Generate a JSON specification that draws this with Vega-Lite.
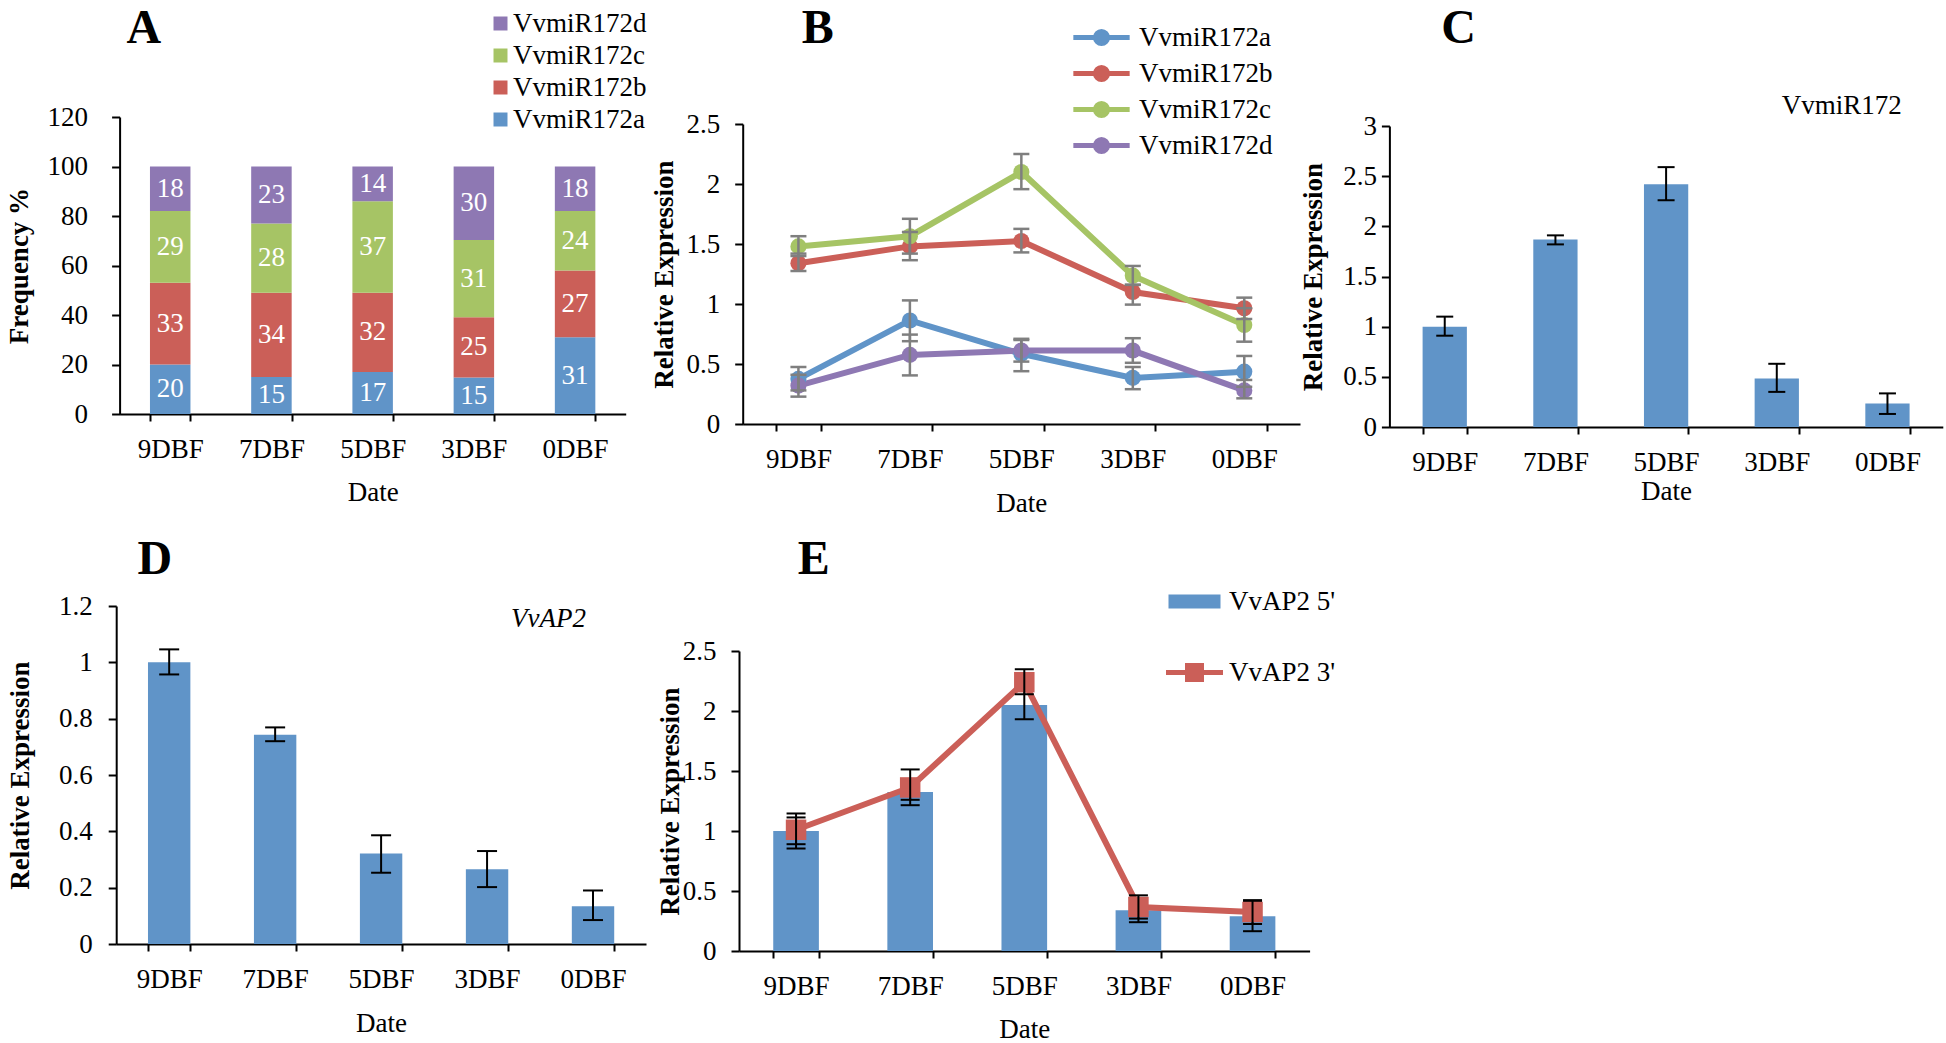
{
  "$schema": "https://vega.github.io/schema/vega-lite/v6.json",
  "width": 1946,
  "height": 1043,
  "autosize": {"type": "none"},
  "padding": 0,
  "background": "white",
  "datasets": {
    "freq": [
      {"date": "9DBF", "series": "VvmiR172a", "value": 20, "label": "20"},
      {"date": "9DBF", "series": "VvmiR172b", "value": 33, "label": "33"},
      {"date": "9DBF", "series": "VvmiR172c", "value": 29, "label": "29"},
      {"date": "9DBF", "series": "VvmiR172d", "value": 18, "label": "18"},
      {"date": "7DBF", "series": "VvmiR172a", "value": 15, "label": "15"},
      {"date": "7DBF", "series": "VvmiR172b", "value": 34, "label": "34"},
      {"date": "7DBF", "series": "VvmiR172c", "value": 28, "label": "28"},
      {"date": "7DBF", "series": "VvmiR172d", "value": 23, "label": "23"},
      {"date": "5DBF", "series": "VvmiR172a", "value": 17, "label": "17"},
      {"date": "5DBF", "series": "VvmiR172b", "value": 32, "label": "32"},
      {"date": "5DBF", "series": "VvmiR172c", "value": 37, "label": "37"},
      {"date": "5DBF", "series": "VvmiR172d", "value": 14, "label": "14"},
      {"date": "3DBF", "series": "VvmiR172a", "value": 14.7, "label": "15"},
      {"date": "3DBF", "series": "VvmiR172b", "value": 24.4, "label": "25"},
      {"date": "3DBF", "series": "VvmiR172c", "value": 31.2, "label": "31"},
      {"date": "3DBF", "series": "VvmiR172d", "value": 29.7, "label": "30"},
      {"date": "0DBF", "series": "VvmiR172a", "value": 31, "label": "31"},
      {"date": "0DBF", "series": "VvmiR172b", "value": 27, "label": "27"},
      {"date": "0DBF", "series": "VvmiR172c", "value": 24, "label": "24"},
      {"date": "0DBF", "series": "VvmiR172d", "value": 18, "label": "18"}
    ],
    "mir": [
      {"series": "VvmiR172a", "date": "9DBF", "value": 0.376, "lo": 0.28, "hi": 0.475},
      {"series": "VvmiR172a", "date": "7DBF", "value": 0.863, "lo": 0.69, "hi": 1.03},
      {"series": "VvmiR172a", "date": "5DBF", "value": 0.585, "lo": 0.44, "hi": 0.70},
      {"series": "VvmiR172a", "date": "3DBF", "value": 0.384, "lo": 0.29, "hi": 0.475},
      {"series": "VvmiR172a", "date": "0DBF", "value": 0.436, "lo": 0.31, "hi": 0.567},
      {"series": "VvmiR172b", "date": "9DBF", "value": 1.34, "lo": 1.275, "hi": 1.42},
      {"series": "VvmiR172b", "date": "7DBF", "value": 1.48, "lo": 1.365, "hi": 1.60},
      {"series": "VvmiR172b", "date": "5DBF", "value": 1.525, "lo": 1.43, "hi": 1.626},
      {"series": "VvmiR172b", "date": "3DBF", "value": 1.10, "lo": 0.995, "hi": 1.16},
      {"series": "VvmiR172b", "date": "0DBF", "value": 0.964, "lo": 0.875, "hi": 1.053},
      {"series": "VvmiR172c", "date": "9DBF", "value": 1.48, "lo": 1.40, "hi": 1.565},
      {"series": "VvmiR172c", "date": "7DBF", "value": 1.565, "lo": 1.42, "hi": 1.71},
      {"series": "VvmiR172c", "date": "5DBF", "value": 2.10, "lo": 1.957, "hi": 2.25},
      {"series": "VvmiR172c", "date": "3DBF", "value": 1.236, "lo": 1.16, "hi": 1.317},
      {"series": "VvmiR172c", "date": "0DBF", "value": 0.825, "lo": 0.686, "hi": 0.965},
      {"series": "VvmiR172d", "date": "9DBF", "value": 0.32, "lo": 0.228, "hi": 0.41},
      {"series": "VvmiR172d", "date": "7DBF", "value": 0.576, "lo": 0.405, "hi": 0.745},
      {"series": "VvmiR172d", "date": "5DBF", "value": 0.612, "lo": 0.52, "hi": 0.71},
      {"series": "VvmiR172d", "date": "3DBF", "value": 0.612, "lo": 0.51, "hi": 0.715},
      {"series": "VvmiR172d", "date": "0DBF", "value": 0.28, "lo": 0.214, "hi": 0.367}
    ],
    "mir172": [
      {"date": "9DBF", "value": 1.0, "lo": 0.91, "hi": 1.10},
      {"date": "7DBF", "value": 1.87, "lo": 1.82, "hi": 1.91},
      {"date": "5DBF", "value": 2.42, "lo": 2.26, "hi": 2.59},
      {"date": "3DBF", "value": 0.484, "lo": 0.35, "hi": 0.63},
      {"date": "0DBF", "value": 0.235, "lo": 0.13, "hi": 0.335}
    ],
    "ap2": [
      {"date": "9DBF", "value": 1.0, "lo": 0.957, "hi": 1.046},
      {"date": "7DBF", "value": 0.743, "lo": 0.72, "hi": 0.769},
      {"date": "5DBF", "value": 0.321, "lo": 0.253, "hi": 0.386},
      {"date": "3DBF", "value": 0.265, "lo": 0.202, "hi": 0.33},
      {"date": "0DBF", "value": 0.134, "lo": 0.085, "hi": 0.19}
    ],
    "ap2bar": [
      {"series": "VvAP2 5'", "date": "9DBF", "value": 1.0, "lo": 0.854, "hi": 1.146},
      {"series": "VvAP2 5'", "date": "7DBF", "value": 1.326, "lo": 1.26, "hi": 1.39},
      {"series": "VvAP2 5'", "date": "5DBF", "value": 2.05, "lo": 1.932, "hi": 2.168},
      {"series": "VvAP2 5'", "date": "3DBF", "value": 0.34, "lo": 0.24, "hi": 0.44},
      {"series": "VvAP2 5'", "date": "0DBF", "value": 0.29, "lo": 0.165, "hi": 0.415}
    ],
    "ap2line": [
      {"series": "VvAP2 3'", "date": "9DBF", "value": 1.01, "lo": 0.89, "hi": 1.113},
      {"series": "VvAP2 3'", "date": "7DBF", "value": 1.363, "lo": 1.215, "hi": 1.513},
      {"series": "VvAP2 3'", "date": "5DBF", "value": 2.24, "lo": 2.14, "hi": 2.347},
      {"series": "VvAP2 3'", "date": "3DBF", "value": 0.367, "lo": 0.27, "hi": 0.464},
      {"series": "VvAP2 3'", "date": "0DBF", "value": 0.325, "lo": 0.225, "hi": 0.424}
    ],
    "letters": [
      {"panel": "A", "date": "9DBF", "value": 155.6},
      {"panel": "B", "date": "9DBF", "value": 3.29},
      {"panel": "C", "date": "9DBF", "value": 3.97},
      {"panel": "D", "date": "9DBF", "value": 1.363},
      {"panel": "E", "date": "9DBF", "value": 3.26}
    ],
    "notes": [
      {"panel": "C", "note": "VvmiR172", "date": "0DBF", "value": 3.197},
      {"panel": "D", "note": "VvAP2", "date": "0DBF", "value": 1.154}
    ]
  },
  "resolve": {"scale": {"x": "independent", "y": "independent", "color": "independent", "fill": "independent", "stroke": "independent"}},
  "layer": [
    {
      "layer": [
        {
          "data": {"name": "freq"},
          "transform": [{"stack": "value", "groupby": ["date"], "sort": [{"field": "series", "order": "ascending"}], "as": ["v0", "v1"]}],
          "mark": {"type": "bar", "opacity": 1},
          "encoding": {
            "x": {"field": "date", "type": "nominal", "scale": {"domain": ["9DBF", "7DBF", "5DBF", "3DBF", "0DBF"], "range": [119.6, 625.7], "paddingInner": 0.6, "paddingOuter": 0.3}, "axis": {"title": "Date", "orient": "bottom", "offset": -629, "minExtent": 65, "maxExtent": 65}},
            "y": {"field": "v0", "type": "quantitative", "scale": {"domain": [0, 120], "range": [414, 117], "nice": false, "zero": false}, "axis": {"title": "Frequency %", "orient": "left", "offset": -119.6, "values": [0, 20, 40, 60, 80, 100, 120], "format": "d", "labelPadding": 24, "minExtent": 86, "maxExtent": 86}},
            "y2": {"field": "v1"},
            "color": {"field": "series", "type": "nominal", "scale": {"domain": ["VvmiR172a", "VvmiR172b", "VvmiR172c", "VvmiR172d"], "range": ["#6094C8", "#CB5F58", "#A6C465", "#8E78B3"]}, "legend": {"title": null, "orient": "none", "legendX": 487, "legendY": 10, "values": ["VvmiR172d", "VvmiR172c", "VvmiR172b", "VvmiR172a"], "symbolType": "square", "symbolSize": 196, "labelOffset": -1, "rowPadding": 4}}
          }
        },
        {
          "data": {"name": "freq"},
          "transform": [
            {"stack": "value", "groupby": ["date"], "sort": [{"field": "series", "order": "ascending"}], "as": ["v0", "v1"]},
            {"fold": ["v0", "v1"], "as": ["edge", "pos"]},
            {"aggregate": [{"op": "mean", "field": "pos", "as": "mid"}], "groupby": ["date", "series", "label"]}
          ],
          "mark": {"type": "text", "color": "white", "font": "Liberation Serif", "fontSize": 27, "baseline": "middle", "align": "center"},
          "encoding": {
            "x": {"field": "date", "type": "nominal"},
            "y": {"field": "mid", "type": "quantitative"},
            "text": {"field": "label"}
          }
        },
        {
          "data": {"name": "letters"},
          "transform": [{"filter": "datum.panel == 'A'"}],
          "mark": {"type": "text", "font": "Liberation Serif", "fontSize": 48, "fontWeight": "bold", "color": "black", "baseline": "middle", "align": "center"},
          "encoding": {
            "x": {"field": "date", "type": "nominal", "bandPosition": -0.15},
            "y": {"field": "value", "type": "quantitative"},
            "text": {"field": "panel"}
          }
        }
      ]
    },
    {
      "layer": [
        {
          "data": {"name": "mir"},
          "mark": {"type": "line", "strokeWidth": 6, "opacity": 1},
          "encoding": {
            "x": {"field": "date", "type": "nominal", "scale": {"domain": ["9DBF", "7DBF", "5DBF", "3DBF", "0DBF"], "range": [742.7, 1300], "paddingInner": 0.6, "paddingOuter": 0.3}, "axis": {"title": "Date", "orient": "bottom", "offset": -619, "minExtent": 66, "maxExtent": 66}},
            "y": {"field": "value", "type": "quantitative", "scale": {"domain": [0, 2.5], "range": [424, 124], "nice": false, "zero": false}, "axis": {"title": "Relative Expression", "orient": "left", "offset": -742.7, "values": [0, 0.5, 1, 1.5, 2, 2.5], "format": "~g", "labelPadding": 15, "minExtent": 64, "maxExtent": 64}},
            "stroke": {"field": "series", "type": "nominal", "scale": {"domain": ["VvmiR172a", "VvmiR172b", "VvmiR172c", "VvmiR172d"], "range": ["#6094C8", "#CB5F58", "#A6C465", "#8E78B3"]}, "legend": {"title": null, "orient": "none", "legendX": 1088, "legendY": 24, "symbolType": "M-2.56,0H2.56M0.55,0A0.55,0.55,0,1,1,-0.55,0A0.55,0.55,0,1,1,0.55,0Z", "symbolSize": 484, "symbolStrokeWidth": 5, "labelOffset": 24, "rowPadding": 3}}
          }
        },
        {
          "data": {"name": "mir"},
          "mark": {"type": "point", "shape": "circle", "filled": true, "size": 260, "opacity": 1},
          "encoding": {
            "x": {"field": "date", "type": "nominal"},
            "y": {"field": "value", "type": "quantitative"},
            "fill": {"field": "series", "type": "nominal", "scale": {"domain": ["VvmiR172a", "VvmiR172b", "VvmiR172c", "VvmiR172d"], "range": ["#6094C8", "#CB5F58", "#A6C465", "#8E78B3"]}, "legend": {"title": null, "orient": "none", "legendX": 1088, "legendY": 24, "symbolType": "M-2.56,0H2.56M0.55,0A0.55,0.55,0,1,1,-0.55,0A0.55,0.55,0,1,1,0.55,0Z", "symbolSize": 484, "symbolStrokeWidth": 5, "labelOffset": 24, "rowPadding": 3}}
          }
        },
        {
          "data": {"name": "mir"},
          "mark": {"type": "rule", "color": "#7F7F7F", "strokeWidth": 2.5},
          "encoding": {
            "x": {"field": "date", "type": "nominal"},
            "y": {"field": "lo", "type": "quantitative"},
            "y2": {"field": "hi"}
          }
        },
        {
          "data": {"name": "mir"},
          "mark": {"type": "tick", "color": "#7F7F7F", "thickness": 2.5, "size": 16, "opacity": 1},
          "encoding": {
            "x": {"field": "date", "type": "nominal"},
            "y": {"field": "lo", "type": "quantitative"}
          }
        },
        {
          "data": {"name": "mir"},
          "mark": {"type": "tick", "color": "#7F7F7F", "thickness": 2.5, "size": 16, "opacity": 1},
          "encoding": {
            "x": {"field": "date", "type": "nominal"},
            "y": {"field": "hi", "type": "quantitative"}
          }
        },
        {
          "data": {"name": "letters"},
          "transform": [{"filter": "datum.panel == 'B'"}],
          "mark": {"type": "text", "font": "Liberation Serif", "fontSize": 48, "fontWeight": "bold", "color": "black", "baseline": "middle", "align": "center"},
          "encoding": {
            "x": {"field": "date", "type": "nominal", "bandPosition": 0.935},
            "y": {"field": "value", "type": "quantitative"},
            "text": {"field": "panel"}
          }
        }
      ]
    },
    {
      "layer": [
        {
          "data": {"name": "mir172"},
          "mark": {"type": "bar", "color": "#6094C8", "opacity": 1},
          "encoding": {
            "x": {"field": "date", "type": "nominal", "scale": {"domain": ["9DBF", "7DBF", "5DBF", "3DBF", "0DBF"], "range": [1389.4, 1942.8], "paddingInner": 0.6, "paddingOuter": 0.3}, "axis": {"title": "Date", "orient": "bottom", "offset": -616, "minExtent": 51, "maxExtent": 51}},
            "y": {"field": "value", "type": "quantitative", "scale": {"domain": [0, 3], "range": [427, 126], "nice": false, "zero": false}, "axis": {"title": "Relative Expression", "orient": "left", "offset": -1389.4, "values": [0, 0.5, 1, 1.5, 2, 2.5, 3], "format": "~g", "labelPadding": 5, "minExtent": 62, "maxExtent": 62}}
          }
        },
        {
          "data": {"name": "mir172"},
          "mark": {"type": "rule", "color": "black", "strokeWidth": 2},
          "encoding": {
            "x": {"field": "date", "type": "nominal"},
            "y": {"field": "lo", "type": "quantitative"},
            "y2": {"field": "hi"}
          }
        },
        {
          "data": {"name": "mir172"},
          "mark": {"type": "tick", "color": "black", "thickness": 2, "size": 17, "opacity": 1},
          "encoding": {
            "x": {"field": "date", "type": "nominal"},
            "y": {"field": "lo", "type": "quantitative"}
          }
        },
        {
          "data": {"name": "mir172"},
          "mark": {"type": "tick", "color": "black", "thickness": 2, "size": 17, "opacity": 1},
          "encoding": {
            "x": {"field": "date", "type": "nominal"},
            "y": {"field": "hi", "type": "quantitative"}
          }
        },
        {
          "data": {"name": "notes"},
          "transform": [{"filter": "datum.panel == 'C'"}],
          "mark": {"type": "text", "font": "Liberation Serif", "fontSize": 27, "color": "black", "baseline": "middle", "align": "center"},
          "encoding": {
            "x": {"field": "date", "type": "nominal", "bandPosition": -0.53},
            "y": {"field": "value", "type": "quantitative"},
            "text": {"field": "note"}
          }
        },
        {
          "data": {"name": "letters"},
          "transform": [{"filter": "datum.panel == 'C'"}],
          "mark": {"type": "text", "font": "Liberation Serif", "fontSize": 48, "fontWeight": "bold", "color": "black", "baseline": "middle", "align": "center"},
          "encoding": {
            "x": {"field": "date", "type": "nominal", "bandPosition": 0.81},
            "y": {"field": "value", "type": "quantitative"},
            "text": {"field": "panel"}
          }
        }
      ]
    },
    {
      "layer": [
        {
          "data": {"name": "ap2"},
          "mark": {"type": "bar", "color": "#6094C8", "opacity": 1},
          "encoding": {
            "x": {"field": "date", "type": "nominal", "scale": {"domain": ["9DBF", "7DBF", "5DBF", "3DBF", "0DBF"], "range": [116.2, 646], "paddingInner": 0.6, "paddingOuter": 0.3}, "axis": {"title": "Date", "orient": "bottom", "offset": -99, "minExtent": 66, "maxExtent": 66}},
            "y": {"field": "value", "type": "quantitative", "scale": {"domain": [0, 1.2], "range": [944, 606], "nice": false, "zero": false}, "axis": {"title": "Relative Expression", "orient": "left", "offset": -116.2, "values": [0, 0.2, 0.4, 0.6, 0.8, 1, 1.2], "format": "~g", "labelPadding": 16, "minExtent": 82, "maxExtent": 82}}
          }
        },
        {
          "data": {"name": "ap2"},
          "mark": {"type": "rule", "color": "black", "strokeWidth": 2},
          "encoding": {
            "x": {"field": "date", "type": "nominal"},
            "y": {"field": "lo", "type": "quantitative"},
            "y2": {"field": "hi"}
          }
        },
        {
          "data": {"name": "ap2"},
          "mark": {"type": "tick", "color": "black", "thickness": 2, "size": 20, "opacity": 1},
          "encoding": {
            "x": {"field": "date", "type": "nominal"},
            "y": {"field": "lo", "type": "quantitative"}
          }
        },
        {
          "data": {"name": "ap2"},
          "mark": {"type": "tick", "color": "black", "thickness": 2, "size": 20, "opacity": 1},
          "encoding": {
            "x": {"field": "date", "type": "nominal"},
            "y": {"field": "hi", "type": "quantitative"}
          }
        },
        {
          "data": {"name": "notes"},
          "transform": [{"filter": "datum.panel == 'D'"}],
          "mark": {"type": "text", "font": "Liberation Serif", "fontSize": 27, "fontStyle": "italic", "color": "black", "baseline": "middle", "align": "center"},
          "encoding": {
            "x": {"field": "date", "type": "nominal", "bandPosition": -0.55},
            "y": {"field": "value", "type": "quantitative"},
            "text": {"field": "note"}
          }
        },
        {
          "data": {"name": "letters"},
          "transform": [{"filter": "datum.panel == 'D'"}],
          "mark": {"type": "text", "font": "Liberation Serif", "fontSize": 48, "fontWeight": "bold", "color": "black", "baseline": "middle", "align": "center"},
          "encoding": {
            "x": {"field": "date", "type": "nominal", "bandPosition": 0.16},
            "y": {"field": "value", "type": "quantitative"},
            "text": {"field": "panel"}
          }
        }
      ]
    },
    {
      "layer": [
        {
          "data": {"name": "ap2bar"},
          "mark": {"type": "bar", "opacity": 1},
          "encoding": {
            "x": {"field": "date", "type": "nominal", "scale": {"domain": ["9DBF", "7DBF", "5DBF", "3DBF", "0DBF"], "range": [739, 1309.6], "paddingInner": 0.6, "paddingOuter": 0.3}, "axis": {"title": "Date", "orient": "bottom", "offset": -92, "minExtent": 65, "maxExtent": 65}},
            "y": {"field": "value", "type": "quantitative", "scale": {"domain": [0, 2.5], "range": [951, 651], "nice": false, "zero": false}, "axis": {"title": "Relative Expression", "orient": "left", "offset": -739, "values": [0, 0.5, 1, 1.5, 2, 2.5], "format": "~g", "labelPadding": 15, "minExtent": 55, "maxExtent": 55}},
            "color": {"field": "series", "type": "nominal", "scale": {"domain": ["VvAP2 5'"], "range": ["#6094C8"]}, "legend": {"title": null, "orient": "none", "legendX": 1181, "legendY": 588, "symbolType": "M-2.6,-0.7H2.6V0.7H-2.6Z", "symbolSize": 400, "labelOffset": 21}}
          }
        },
        {
          "data": {"name": "ap2bar"},
          "mark": {"type": "rule", "color": "black", "strokeWidth": 2},
          "encoding": {
            "x": {"field": "date", "type": "nominal"},
            "y": {"field": "lo", "type": "quantitative"},
            "y2": {"field": "hi"}
          }
        },
        {
          "data": {"name": "ap2bar"},
          "mark": {"type": "tick", "color": "black", "thickness": 2, "size": 19, "opacity": 1},
          "encoding": {
            "x": {"field": "date", "type": "nominal"},
            "y": {"field": "lo", "type": "quantitative"}
          }
        },
        {
          "data": {"name": "ap2bar"},
          "mark": {"type": "tick", "color": "black", "thickness": 2, "size": 19, "opacity": 1},
          "encoding": {
            "x": {"field": "date", "type": "nominal"},
            "y": {"field": "hi", "type": "quantitative"}
          }
        },
        {
          "data": {"name": "ap2line"},
          "mark": {"type": "line", "strokeWidth": 6, "opacity": 1},
          "encoding": {
            "x": {"field": "date", "type": "nominal"},
            "y": {"field": "value", "type": "quantitative"},
            "stroke": {"field": "series", "type": "nominal", "scale": {"domain": ["VvAP2 3'"], "range": ["#CB5F58"]}, "legend": {"title": null, "orient": "none", "legendX": 1181, "legendY": 659, "symbolType": "M-2.85,0H2.85M-0.7,-0.7H0.7V0.7H-0.7Z", "symbolSize": 400, "symbolStrokeWidth": 5, "labelOffset": 21}}
          }
        },
        {
          "data": {"name": "ap2line"},
          "mark": {"type": "point", "shape": "square", "filled": true, "size": 420, "opacity": 1},
          "encoding": {
            "x": {"field": "date", "type": "nominal"},
            "y": {"field": "value", "type": "quantitative"},
            "fill": {"field": "series", "type": "nominal", "scale": {"domain": ["VvAP2 3'"], "range": ["#CB5F58"]}, "legend": {"title": null, "orient": "none", "legendX": 1181, "legendY": 659, "symbolType": "M-2.85,0H2.85M-0.7,-0.7H0.7V0.7H-0.7Z", "symbolSize": 400, "symbolStrokeWidth": 5, "labelOffset": 21}}
          }
        },
        {
          "data": {"name": "ap2line"},
          "mark": {"type": "rule", "color": "black", "strokeWidth": 2},
          "encoding": {
            "x": {"field": "date", "type": "nominal"},
            "y": {"field": "lo", "type": "quantitative"},
            "y2": {"field": "hi"}
          }
        },
        {
          "data": {"name": "ap2line"},
          "mark": {"type": "tick", "color": "black", "thickness": 2, "size": 19, "opacity": 1},
          "encoding": {
            "x": {"field": "date", "type": "nominal"},
            "y": {"field": "lo", "type": "quantitative"}
          }
        },
        {
          "data": {"name": "ap2line"},
          "mark": {"type": "tick", "color": "black", "thickness": 2, "size": 19, "opacity": 1},
          "encoding": {
            "x": {"field": "date", "type": "nominal"},
            "y": {"field": "hi", "type": "quantitative"}
          }
        },
        {
          "data": {"name": "letters"},
          "transform": [{"filter": "datum.panel == 'E'"}],
          "mark": {"type": "text", "font": "Liberation Serif", "fontSize": 48, "fontWeight": "bold", "color": "black", "baseline": "middle", "align": "center"},
          "encoding": {
            "x": {"field": "date", "type": "nominal", "bandPosition": 0.89},
            "y": {"field": "value", "type": "quantitative"},
            "text": {"field": "panel"}
          }
        }
      ]
    }
  ],
  "config": {
    "view": {"stroke": null},
    "font": "Liberation Serif",
    "axis": {
      "domainColor": "#000000", "domainWidth": 2, "tickColor": "#000000", "tickWidth": 2,
      "labelColor": "#000000", "labelFont": "Liberation Serif", "labelFontSize": 27,
      "titleFont": "Liberation Serif", "titleFontSize": 27, "titleColor": "#000000",
      "grid": false, "titlePadding": 0, "labelOverlap": false, "labelFlush": false
    },
    "axisX": {"tickSize": 7, "labelPadding": 15, "labelAngle": 0, "titleFontWeight": "normal", "tickBand": "extent"},
    "axisY": {"tickSize": 8, "titleFontWeight": "bold"},
    "legend": {"labelFont": "Liberation Serif", "labelFontSize": 27, "labelColor": "#000000", "padding": 0}
  }
}
